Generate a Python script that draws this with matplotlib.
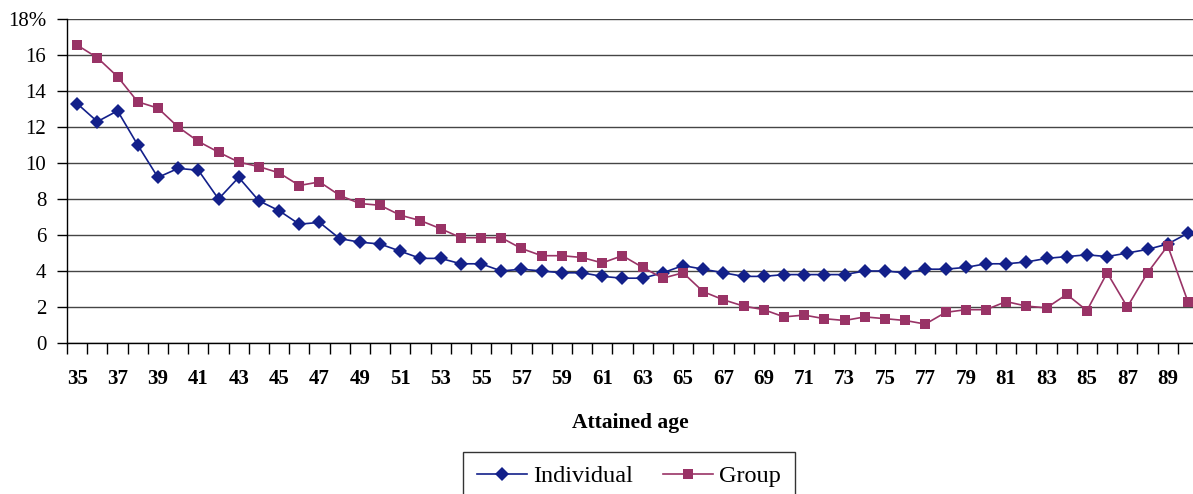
"""Lapse rate by attained age, individual vs group policies."""

import matplotlib

matplotlib.use("Agg")

import matplotlib.pyplot as plt
import numpy as np
from matplotlib.ticker import FuncFormatter


AGES = list(range(35, 91))

INDIVIDUAL = [
    13.3, 12.3, 12.9, 11.0, 9.2, 9.7, 9.6, 8.0, 9.2, 7.9,
    7.35, 6.6, 6.7, 5.8, 5.6, 5.5, 5.1, 4.7, 4.7, 4.4,
    4.4, 4.0, 4.1, 4.0, 3.9, 3.9, 3.7, 3.6, 3.6, 3.9,
    4.3, 4.1, 3.9, 3.7, 3.7, 3.8, 3.8, 3.8, 3.8, 4.0,
    4.0, 3.9, 4.1, 4.1, 4.2, 4.4, 4.4, 4.5, 4.7, 4.8,
    4.9, 4.8, 5.0, 5.2, 5.5, 6.1,
]

GROUP = [
    16.55, 15.85, 14.8, 13.4, 13.05, 12.0, 11.2, 10.6, 10.05, 9.8,
    9.45, 8.75, 8.95, 8.2, 7.75, 7.65, 7.1, 6.8, 6.35, 5.85,
    5.85, 5.85, 5.25, 4.85, 4.85, 4.75, 4.45, 4.85, 4.2, 3.6,
    3.9, 2.85, 2.4, 2.05, 1.85, 1.45, 1.55, 1.35, 1.25, 1.45,
    1.35, 1.25, 1.05, 1.7, 1.85, 1.85, 2.3, 2.05, 1.95, 2.7,
    1.8, 3.9, 2.0, 3.9, 5.4, 2.3,
]

NAVY = "#13208a"
PLUM = "#993366"
SERIF = ["Liberation Serif", "DejaVu Serif"]


def y_label(value, _pos):
    return "%d%%" % value if value >= 18 else "%d" % value


def main():
    plt.rcParams["font.family"] = SERIF

    fig = plt.figure(figsize=(11.93, 4.94), dpi=100)
    ax = fig.add_axes([0.0562, 0.3057, 0.948, 0.6558])

    x = np.arange(len(AGES))
    ax.plot(x, INDIVIDUAL, color=NAVY, lw=1.2, marker="D", ms=7.6,
            mew=0, label="Individual", zorder=3)
    ax.plot(x, GROUP, color=PLUM, lw=1.2, marker="s", ms=7.4,
            mew=0, label="Group", zorder=3)

    ax.set_xlim(-0.5, len(AGES) - 0.5)
    ax.set_ylim(0, 18)
    ax.set_yticks(np.arange(0, 19, 2))
    ax.yaxis.set_major_formatter(FuncFormatter(y_label))
    ax.tick_params(axis="y", length=7, width=1, pad=8, labelsize=15)
    ax.yaxis.grid(True, color="#454545", lw=1.0)
    ax.set_axisbelow(True)

    # odd ages labelled at category centres, tick marks on category edges
    ax.set_xticks(x[::2])
    ax.set_xticklabels([str(a) for a in AGES[::2]], fontweight="bold")
    ax.tick_params(axis="x", which="major", length=0, pad=19, labelsize=15)
    ax.set_xticks(np.arange(-0.5, len(AGES), 1), minor=True)
    ax.tick_params(axis="x", which="minor", length=8, width=1)

    for side in ("top", "right"):
        ax.spines[side].set_visible(False)
    for side in ("left", "bottom"):
        ax.spines[side].set_color("black")
        ax.spines[side].set_linewidth(1)

    fig.text(0.528, 1 - 423 / 494, "Attained age", ha="center", va="center",
             fontsize=15.5, fontweight="bold")

    fig.legend(loc="upper center", bbox_to_anchor=(629 / 1193, 1 - 452 / 494),
               ncol=2, fontsize=17.5, frameon=True, fancybox=False,
               edgecolor="black", handlelength=2.06, handletextpad=0.25,
               columnspacing=1.25, borderpad=0.55, borderaxespad=0)

    fig.savefig("out.png", dpi=100)
    plt.close(fig)


if __name__ == "__main__":
    main()
